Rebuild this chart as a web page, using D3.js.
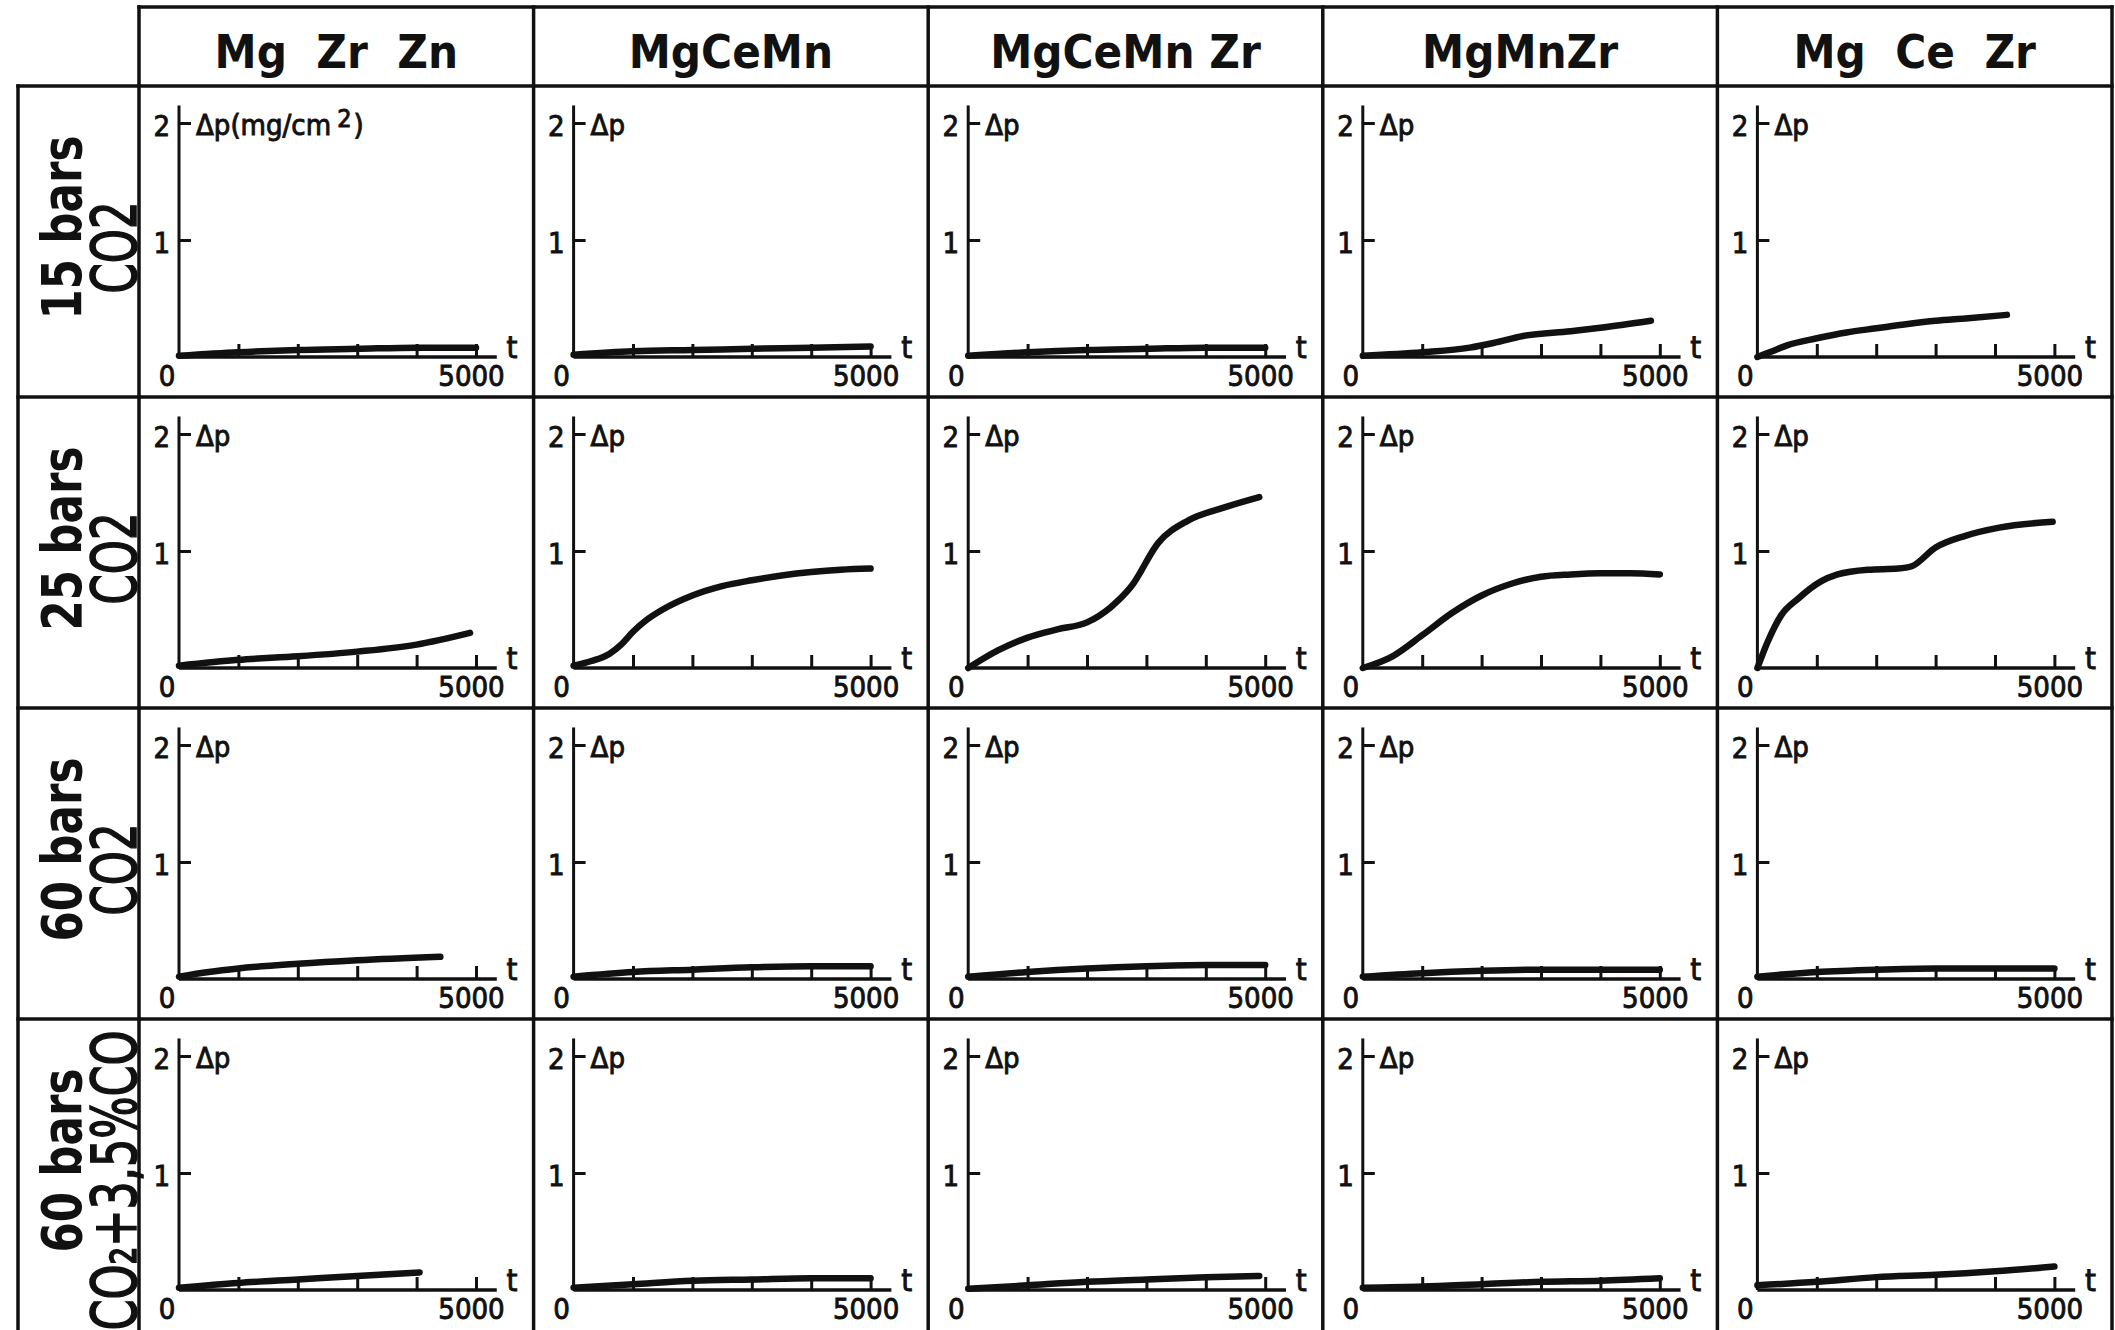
<!DOCTYPE html>
<html><head><meta charset="utf-8">
<script src="https://cdn.jsdelivr.net/npm/d3@7"></script>
<style>
body{margin:0;background:#fff;}
svg{display:block;background:#fff;}
text{font-family:"DejaVu Sans Condensed","DejaVu Sans",sans-serif;font-stretch:condensed;fill:#111;}
.pt{stroke:#111;stroke-width:0.9px;}
</style></head><body>
<svg id="chart" width="2115" height="1330"></svg>
<script>
// ---------- data ----------
const alloys = ["Mg  Zr  Zn", "MgCeMn", "MgCeMn Zr", "MgMnZr", "Mg  Ce  Zr"];
const atmosphereLine1 = ["15 bars", "25 bars", "60 bars", "60 bars"];
const atmosphereLine2 = ["CO2", "CO2", "CO2", "CO\u2082+3,5%CO"];
const yTickValues = [1, 2];
const xTickValues = [1000, 2000, 3000, 4000, 5000];
const xEndLabel = "5000";
const originLabel = "0";
const xAxisName = "t";
const yAxisName = "\u0394p";
const yAxisUnitFirst = ["\u0394p(mg/cm", "2", ")"];

// series: [t, Δp (mg/cm²)]
// 15 bars CO2
const p15_MgZrZn   = [[0,0.01],[1000,0.04],[2000,0.06],[3000,0.07],[4000,0.08],[5000,0.08]];
const p15_MgCeMn   = [[0,0.02],[1000,0.05],[2000,0.06],[3000,0.07],[4000,0.08],[5000,0.09]];
const p15_MgCeMnZr = [[0,0.01],[1000,0.04],[2000,0.06],[3000,0.07],[4000,0.08],[5000,0.08]];
const p15_MgMnZr   = [[0,0.01],[1000,0.04],[1800,0.08],[2200,0.12],[2700,0.18],[3500,0.22],[4000,0.25],[4850,0.31]];
const p15_MgCeZr   = [[0,0],[250,0.05],[500,0.10],[1000,0.16],[1500,0.21],[2000,0.245],[2500,0.28],[3000,0.31],[3500,0.33],[4200,0.36]];
// 25 bars CO2
const p25_MgZrZn   = [[0,0.02],[1000,0.07],[2000,0.10],[3000,0.14],[4000,0.20],[4900,0.30]];
const p25_MgCeMn   = [[0,0.02],[300,0.06],[600,0.12],[800,0.20],[1000,0.31],[1200,0.40],[1500,0.50],[2000,0.62],[2500,0.70],[3000,0.75],[3500,0.79],[4000,0.82],[4500,0.84],[5000,0.85]];
const p25_MgCeMnZr = [[0,0],[500,0.15],[1000,0.26],[1500,0.33],[2000,0.39],[2400,0.52],[2750,0.70],[3200,1.07],[3700,1.26],[4300,1.37],[4900,1.46]];
const p25_MgMnZr   = [[0,0],[500,0.10],[1000,0.28],[1500,0.47],[2000,0.62],[2500,0.72],[3000,0.78],[3500,0.80],[4000,0.81],[4500,0.81],[5000,0.80]];
const p25_MgCeZr   = [[0,0],[170,0.22],[400,0.45],[680,0.59],[1070,0.74],[1350,0.80],[1860,0.84],[2370,0.85],[2600,0.87],[3000,1.03],[3500,1.13],[4070,1.20],[4970,1.25]];
// 60 bars CO2
const p60_MgZrZn   = [[0,0.02],[500,0.06],[1000,0.09],[2000,0.13],[3000,0.16],[4400,0.19]];
const p60_MgCeMn   = [[0,0.02],[1000,0.06],[2000,0.08],[3000,0.10],[4000,0.11],[5000,0.11]];
const p60_MgCeMnZr = [[0,0.02],[1000,0.06],[2000,0.09],[3000,0.11],[4000,0.12],[5000,0.12]];
const p60_MgMnZr   = [[0,0.02],[1000,0.05],[2000,0.07],[3000,0.08],[5000,0.08]];
const p60_MgCeZr   = [[0,0.02],[1000,0.06],[2000,0.08],[3000,0.09],[5000,0.09]];
// 60 bars CO2 + 3,5% CO
const pCO_MgZrZn   = [[0,0.02],[1000,0.06],[2000,0.09],[3000,0.12],[4050,0.15]];
const pCO_MgCeMn   = [[0,0.02],[1000,0.05],[2000,0.08],[3000,0.09],[4000,0.10],[5000,0.10]];
const pCO_MgCeMnZr = [[0,0.01],[1000,0.04],[2000,0.07],[3000,0.09],[4000,0.11],[4900,0.12]];
const pCO_MgMnZr   = [[0,0.02],[1000,0.03],[2000,0.05],[3000,0.07],[4000,0.08],[5000,0.10]];
const pCO_MgCeZr   = [[0,0.04],[1000,0.07],[2000,0.11],[3000,0.13],[4000,0.16],[5000,0.20]];

const seriesGrid = [
  [p15_MgZrZn, p15_MgCeMn, p15_MgCeMnZr, p15_MgMnZr, p15_MgCeZr],
  [p25_MgZrZn, p25_MgCeMn, p25_MgCeMnZr, p25_MgMnZr, p25_MgCeZr],
  [p60_MgZrZn, p60_MgCeMn, p60_MgCeMnZr, p60_MgMnZr, p60_MgCeZr],
  [pCO_MgZrZn, pCO_MgCeMn, pCO_MgCeMnZr, pCO_MgMnZr, pCO_MgCeZr]
];

// ---------- layout ----------
const W = 2115, H = 1330;
const labelLeft = 18, gridLeft = 139, gridRight = 2112;
const headerTop = 7, headerBottom = 86, rowH = 311;
const colW = (gridRight - gridLeft) / alloys.length;
const ink = "#111";
const svg = d3.select("#chart");

// table lines
const lines = svg.append("g").attr("stroke", ink).attr("stroke-width", 3.5).attr("stroke-linecap", "square");
lines.append("line").attr("x1", gridLeft).attr("x2", gridRight).attr("y1", headerTop).attr("y2", headerTop);
for (let r = 0; r < atmosphereLine1.length; r++) {
  const yy = headerBottom + r * rowH;
  lines.append("line").attr("x1", labelLeft).attr("x2", gridRight).attr("y1", yy).attr("y2", yy);
}
lines.append("line").attr("x1", labelLeft).attr("x2", labelLeft).attr("y1", headerBottom).attr("y2", H);
for (let c = 0; c <= alloys.length; c++) {
  const xx = gridLeft + c * colW;
  lines.append("line").attr("x1", xx).attr("x2", xx).attr("y1", headerTop).attr("y2", H);
}

// column headers
svg.append("g").selectAll("text").data(alloys).join("text")
  .attr("x", (d, i) => gridLeft + (i + 0.5) * colW)
  .attr("y", 68)
  .attr("text-anchor", "middle")
  .attr("font-size", 47).attr("font-weight", "bold")
  .style("white-space", "pre")
  .text(d => d);

// row labels
atmosphereLine1.forEach((l1, r) => {
  const cy = headerBottom + (r + 0.5) * rowH;
  const g = svg.append("g").attr("transform", `translate(0,${cy}) rotate(-90)`);
  g.append("text").attr("x", 14).attr("y", 81).attr("text-anchor", "middle")
    .attr("font-size", 56).attr("font-weight", "bold")
    .attr("textLength", 184).attr("lengthAdjust", "spacingAndGlyphs").text(l1);
  const l2 = atmosphereLine2[r];
  g.append("text").attr("x", -6).attr("y", 136).attr("text-anchor", "middle")
    .attr("font-size", 62).attr("stroke", ink).attr("stroke-width", 1.6)
    .attr("textLength", l2.length > 4 ? 300 : 92).attr("lengthAdjust", "spacingAndGlyphs").text(l2);
});

// panels
const line = d3.line().curve(d3.curveMonotoneX);
seriesGrid.forEach((rowSeries, r) => {
  const top = headerBottom + r * rowH;
  rowSeries.forEach((series, c) => {
    const left = gridLeft + c * colW;
    const x = d3.scaleLinear().domain([0, 5000]).range([left + 40, left + 337]);
    const y = d3.scaleLinear().domain([0, 2]).range([top + 271, top + 37]);
    const g = svg.append("g");

    // axis lines
    g.append("line").attr("x1", x(0)).attr("x2", x(0)).attr("y1", y(0)).attr("y2", y(2.15))
      .attr("stroke", ink).attr("stroke-width", 3);
    g.append("line").attr("x1", x(0)).attr("x2", x(5350)).attr("y1", y(0)).attr("y2", y(0))
      .attr("stroke", ink).attr("stroke-width", 3.5);

    // y axis ticks (inward) with labels
    const ya = g.append("g").attr("transform", `translate(${x(0)},0)`)
      .call(d3.axisLeft(y).tickValues(yTickValues).tickSize(-12).tickPadding(9).tickFormat(d3.format("d")));
    ya.select(".domain").remove();
    ya.selectAll("line").attr("stroke", ink).attr("stroke-width", 3);
    ya.selectAll("text").attr("class", "pt").attr("font-size", 29).attr("fill", ink).attr("dy", "0.42em");
    ya.attr("font-family", null).attr("font-size", null);

    // x axis ticks (upward) with end label
    const xa = g.append("g").attr("transform", `translate(0,${y(0)})`)
      .call(d3.axisBottom(x).tickValues(xTickValues).tickSize(-13).tickPadding(8)
        .tickFormat(d => d === 5000 ? xEndLabel : ""));
    xa.select(".domain").remove();
    xa.selectAll("line").attr("stroke", ink).attr("stroke-width", 3);
    xa.selectAll("text").attr("class", "pt").attr("font-size", 29).attr("fill", ink).attr("dx", -5);
    xa.attr("font-family", null).attr("font-size", null);

    // origin label, axis names
    g.append("text").attr("class", "pt").attr("x", x(0) - 12).attr("y", y(0) + 29).attr("text-anchor", "middle")
      .attr("font-size", 29).text(originLabel);
    g.append("text").attr("class", "pt").attr("x", x(5000) + 36).attr("y", y(0) + 1).attr("text-anchor", "middle")
      .attr("font-size", 31).text(xAxisName);
    const yl = g.append("text").attr("class", "pt").attr("x", x(0) + 17).attr("y", y(2) + 12).attr("font-size", 29);
    if (r === 0 && c === 0) {
      yl.append("tspan").text(yAxisUnitFirst[0]);
      yl.append("tspan").attr("dx", 6).attr("dy", -8).attr("font-size", 25).text(yAxisUnitFirst[1]);
      yl.append("tspan").attr("dx", 2).attr("dy", 8).text(yAxisUnitFirst[2]);
    } else {
      yl.text(yAxisName);
    }

    // curve
    g.append("path")
      .attr("d", line(series.map(d => [x(d[0]), y(d[1])])))
      .attr("fill", "none").attr("stroke", ink).attr("stroke-width", 6.5)
      .attr("stroke-linecap", "round").attr("stroke-linejoin", "round");
  });
});
</script>
</body></html>
